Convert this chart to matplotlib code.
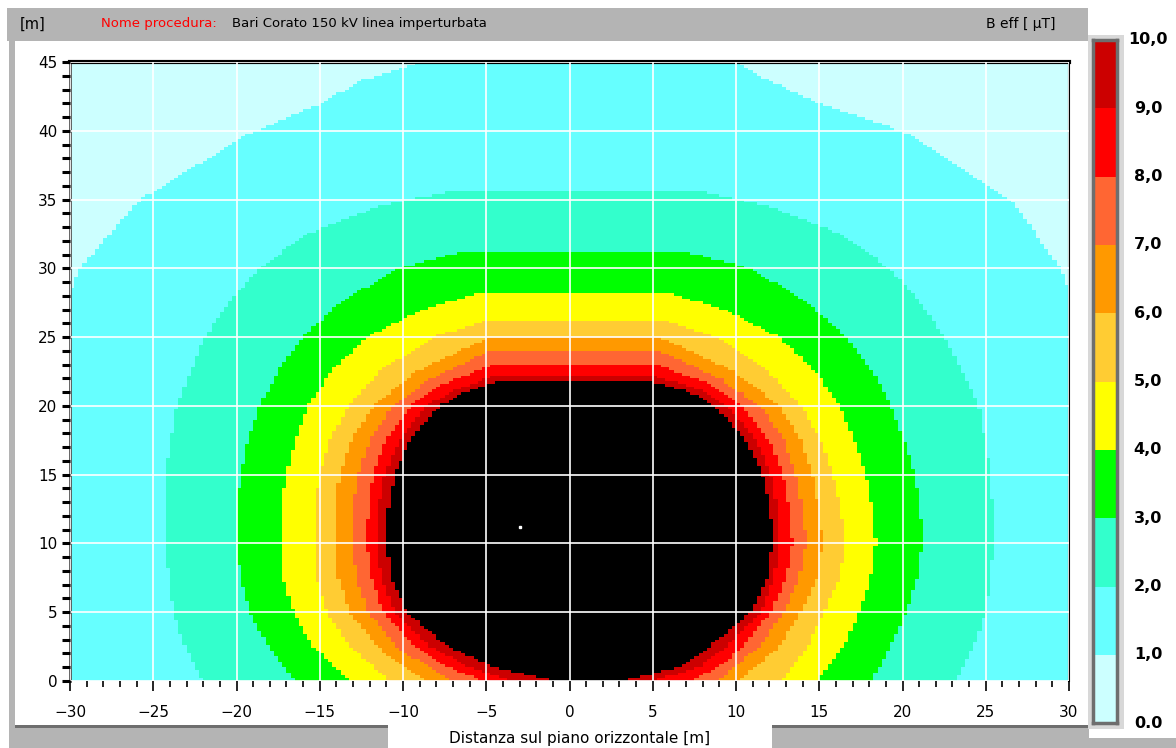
import numpy as np
import matplotlib
matplotlib.use("Agg")
import matplotlib.pyplot as plt
from matplotlib.colors import ListedColormap
from matplotlib.patches import Rectangle
from matplotlib.path import Path

W, H = 1176, 748

# band colours: 0-1, 1-2, ... 9-10, >10
band_colors = ["#CCFFFF", "#66FFFF", "#33FFCC", "#00FF00", "#FFFF00",
               "#FFCC33", "#FF9900", "#FF6633", "#FF0000", "#CC0000", "#000000"]
cbar_labels = ["0.0", "1,0", "2,0", "3,0", "4,0", "5,0", "6,0", "7,0", "8,0", "9,0", "10,0"]

# contour edges: (y, x left, x right) for B = 1, 2, ... 10 uT
c1 = [(0, -31, 31), (28.0, -31, 31), (28.3, -30, 30), (30, -29.4, 29.5), (35, -25.8, 26.5),
      (39.7, -19.4, 20.6), (41.9, -15.1, 15.2), (43.7, -12.4, 11.9), (45, -8.9, 10.0), (46, -8, 9)]
c2 = [(0, -22.0, 23.2), (2.5, -23.1, 24.3), (5, -23.8, 25.0), (10, -24.3, 25.5), (15, -24.3, 25.3),
      (20, -23.6, 24.6), (25, -21.9, 22.5), (27.5, -20.5, 21.1), (30, -18.6, 19.2),
      (32.5, -15.8, 16.3), (34.5, -11.5, 12.0), (35.6, -7.2, 7.8)]
c3 = [(0, -16.5, 18.1), (2.5, -18.1, 19.3), (5, -19.2, 20.2), (7.5, -19.8, 20.9), (10, -20.0, 21.2),
      (12.5, -20.0, 21.1), (15, -19.8, 20.7), (17.5, -19.3, 20.1), (20, -18.6, 19.3),
      (22.5, -17.5, 18.2), (25, -16.0, 16.6), (27.5, -13.8, 14.3), (30, -10.3, 10.9), (31.2, -6.5, 7.0)]
c4 = [(0, -13.2, 14.9), (2.5, -15.4, 16.5), (5, -16.6, 17.4), (7.5, -17.2, 18.1), (10, -17.3, 18.4),
      (12.5, -17.3, 18.2), (15, -17.0, 17.8), (17.5, -16.5, 17.1), (20, -15.7, 16.2),
      (22.5, -14.3, 14.8), (25, -12.2, 12.6), (27, -8.8, 9.3), (28.2, -5.5, 6.0)]
c5 = [(0, -10.8, 12.7), (2.5, -13.2, 14.3), (5, -14.6, 15.3), (7.5, -15.2, 16.2), (10, -15.3, 16.6),
      (12.5, -15.3, 16.3), (15, -15.0, 15.8), (17.5, -14.4, 15.1), (20, -13.3, 13.9),
      (22.5, -11.4, 11.9), (25, -8.2, 8.8), (26.2, -5.0, 5.8)]
c6 = [(0, -8.7, 10.2), (2.5, -11.6, 12.6), (5, -13.2, 13.9), (7.5, -13.9, 14.9), (10, -14.1, 15.2),
      (12.5, -14.1, 15.0), (15, -13.8, 14.6), (17.5, -13.1, 13.9), (20, -11.8, 12.6),
      (22.5, -9.2, 9.9), (24.9, -5.0, 5.6)]
c7 = [(0, -7.2, 8.9), (2.5, -10.4, 11.4), (5, -12.1, 12.9), (7.5, -12.8, 13.8), (10, -13.0, 14.2),
      (12.5, -13.0, 14.0), (15, -12.7, 13.6), (17.5, -12.0, 12.9), (20, -10.6, 11.5),
      (22, -8.3, 9.0), (24.0, -4.8, 5.4)]
c8 = [(0, -5.25, 7.2), (1, -7.3, 9.0), (2.5, -9.3, 10.4), (5, -11.2, 12.1), (7.5, -11.9, 13.0),
      (10, -12.2, 13.4), (12.5, -12.1, 13.2), (15, -11.8, 12.8), (17.5, -11.0, 12.0),
      (20, -9.5, 10.4), (21.5, -7.8, 8.6), (23.0, -4.6, 5.2)]
c9 = [(0, -3.4, 5.0), (1, -6.0, 7.8), (2.5, -8.4, 9.4), (5, -10.5, 11.5), (7.5, -11.3, 12.3),
      (10, -11.6, 12.6), (12.5, -11.5, 12.5), (15, -11.1, 12.1), (17.5, -10.2, 11.2),
      (20, -8.6, 9.5), (21.3, -6.6, 7.6), (22.2, -4.4, 5.0)]
c10 = [(0, -1.0, 3.3), (1, -4.5, 6.5), (2.5, -7.3, 8.4), (5, -9.8, 10.9), (7.5, -10.7, 11.9),
       (10, -11.0, 12.2), (12.5, -10.9, 12.1), (15, -10.5, 11.6), (17.5, -9.6, 10.6),
       (20, -7.8, 8.7), (21, -6.3, 7.2), (21.8, -4.2, 4.8)]
contours = [c1, c2, c3, c4, c5, c6, c7, c8, c9, c10]

dot_x = [-3.0]
dot_y = [11.2]


def fx(x):
    return x / W


def fy(y):
    return 1 - y / H


def box(fig, x0, y0, x1, y1, color):
    fig.add_artist(Rectangle((fx(x0), fy(y1)), (x1 - x0) / W, (y1 - y0) / H,
                             transform=fig.transFigure, color=color, lw=0, zorder=0))


def edge_path(rows):
    pts = [(rows[0][1], -1)]
    pts += [(xl, y) for y, xl, xr in rows]
    pts += [(xr, y) for y, xl, xr in rows[::-1]]
    pts += [(rows[0][2], -1)]
    return Path(pts)


fig = plt.figure(figsize=(W / 100, H / 100), dpi=100)
fig.patch.set_facecolor("white")

# window frame
gray = "#B4B4B4"
dark = "#6E6E6E"
box(fig, 7, 8, 1088, 41, gray)
box(fig, 9, 41, 15, 748, gray)
box(fig, 9, 727, 388, 748, gray)
box(fig, 15, 725, 388, 728, dark)
box(fig, 772, 727, 1089, 748, gray)
box(fig, 772, 725, 1089, 728, dark)
box(fig, 1089, 738, 1176, 748, gray)

fig.text(fx(20), fy(24), "[m]", fontsize=10.5, va="center", ha="left")
fig.text(fx(101), fy(24), "Nome procedura:", fontsize=9.5, va="center", ha="left", color="red")
fig.text(fx(232), fy(24), "Bari Corato 150 kV linea imperturbata", fontsize=9.5, va="center", ha="left")
fig.text(fx(1056), fy(24), "B eff [ \u00b5T]", fontsize=10, va="center", ha="right")

# field grid built from the contour edges
xe = np.arange(-30, 30.001, 0.25)
ye = np.arange(0, 45.001, 0.2)
xc = (xe[:-1] + xe[1:]) / 2
yc = (ye[:-1] + ye[1:]) / 2
XX, YY = np.meshgrid(xc, yc)
pts = np.column_stack([XX.ravel(), YY.ravel()])
level = np.zeros(XX.shape)
for rows in contours:
    level += edge_path(rows).contains_points(pts).reshape(XX.shape)

ax = fig.add_axes([fx(70), fy(681), 999 / W, 619 / H])
cmap = ListedColormap(band_colors)
ax.pcolormesh(xe, ye, level, cmap=cmap, vmin=-0.5, vmax=10.5, shading="flat")
ax.plot(dot_x, dot_y, marker="s", ms=2, color="white", lw=0)

ax.set_xlim(-30, 30)
ax.set_ylim(0, 45)
ax.set_xticks(np.arange(-30, 31, 5))
ax.set_xticks(np.arange(-30, 31, 1), minor=True)
ax.set_yticks(np.arange(0, 46, 5))
ax.set_yticks(np.arange(0, 46, 1), minor=True)
ax.grid(True, which="major", color="white", lw=1.2)
ax.set_axisbelow(False)
ax.tick_params(which="major", axis="x", direction="out", length=7, width=1.2, pad=10, labelsize=11)
ax.tick_params(which="minor", axis="x", direction="out", length=4, width=1.2)
ax.tick_params(which="major", axis="y", direction="out", length=6, width=2.2, pad=3, labelsize=11)
ax.tick_params(which="minor", axis="y", direction="out", length=6, width=2.2)
ax.spines["top"].set_color("black")
ax.spines["top"].set_linewidth(3)
ax.spines["left"].set_color("#555555")
ax.spines["left"].set_linewidth(2)
ax.spines["right"].set_color("black")
ax.spines["right"].set_linewidth(1.5)
ax.spines["bottom"].set_visible(False)

fig.text(fx(580), fy(739), "Distanza sul piano orizzontale [m]", fontsize=11, ha="center", va="center")

# legend bar
box(fig, 1088, 35, 1124, 729, "#D8D8D8")
cax = fig.add_axes([fx(1093), fy(723), 24 / W, 683 / H])
cax.imshow(np.arange(10).reshape(-1, 1), cmap=ListedColormap(band_colors[:10]),
           origin="lower", aspect="auto", extent=[0, 1, 0, 10])
cax.set_xticks([])
cax.set_yticks([])
for s in cax.spines.values():
    s.set_color(dark)
    s.set_linewidth(2.5)
for i, lab in enumerate(cbar_labels):
    ypx = 723 - i * 683 / 10
    fig.text(fx(1148), fy(ypx), lab, fontsize=11.5, fontweight="bold", ha="center", va="center")

fig.savefig("out.png", dpi=100)
